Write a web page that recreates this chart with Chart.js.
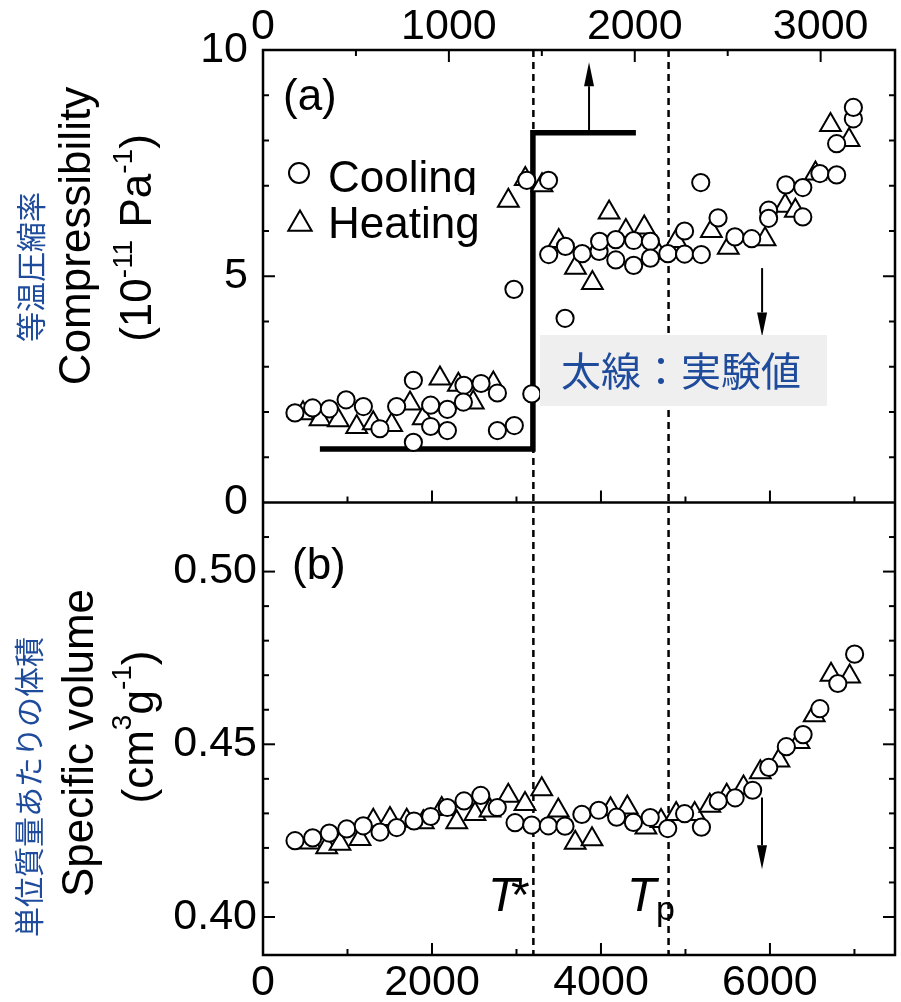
<!DOCTYPE html>
<html>
<head>
<meta charset="utf-8">
<script src="https://cdn.jsdelivr.net/npm/chart.js@4.4.1/dist/chart.umd.min.js"></script>
<style>
  html, body { margin: 0; padding: 0; background: #fff; }
  canvas { display: block; }
</style>
</head>
<body>
<canvas id="chart" width="901" height="1002"></canvas>
<script>
// (a) compressibility (10^-11 Pa^-1) vs top axis
var coolA_x = [172, 267, 357, 447, 540, 629, 719, 809, 809, 902, 902, 992, 992, 1081, 1078, 1173, 1261, 1261, 1352, 1350, 1446, 1419, 1536, 1537, 1627, 1625, 1717, 1808, 1811, 1898, 1898, 1994, 1994, 2084, 2084, 2178, 2268, 2268, 2355, 2358, 2448, 2539, 2629, 2720, 2720, 2813, 2904, 2904, 2996, 3086, 3086, 3176, 3176];
var coolA_y = [1.98, 2.09, 2.07, 2.27, 2.12, 1.63, 2.12, 2.70, 1.33, 2.15, 1.68, 2.06, 1.59, 2.59, 2.22, 2.63, 2.42, 1.59, 1.70, 4.71, 2.40, 7.12, 7.12, 5.48, 5.66, 4.07, 5.50, 5.55, 5.77, 5.81, 5.36, 5.79, 5.24, 5.77, 5.40, 5.50, 6.00, 5.49, 7.07, 5.48, 6.29, 5.87, 5.83, 6.46, 6.28, 7.02, 6.96, 6.31, 7.27, 7.24, 7.93, 8.48, 8.73];
var heatA_x = [215, 307, 405, 504, 593, 692, 791, 862, 952, 1051, 1131, 1239, 1320, 1411, 1501, 1591, 1681, 1772, 1862, 1952, 2051, 2123, 2223, 2412, 2503, 2701, 2809, 2864, 2972, 3053, 3153];
var heatA_y = [1.97, 1.84, 1.82, 1.67, 1.75, 1.71, 2.19, 1.86, 2.74, 2.60, 2.21, 2.63, 6.67, 7.15, 7.01, 5.78, 5.19, 4.85, 6.41, 6.00, 6.08, 5.52, 5.78, 6.00, 5.63, 5.82, 6.56, 6.45, 7.27, 8.34, 8.01];

// thick line = experimental values (a)
var expA_x = [306, 1452, 1452, 2006];
var expA_y = [1.18, 1.18, 8.17, 8.17];

// (b) specific volume (cm^3 g^-1) vs bottom axis
var coolB_x = [379, 588, 785, 991, 1187, 1385, 1582, 1787, 1985, 2181, 2379, 2577, 2773, 2983, 3180, 3377, 3574, 3774, 3973, 4185, 4384, 4583, 4790, 4990, 5189, 5388, 5588, 5795, 5986, 6194, 6392, 6591, 6803, 7002];
var coolB_y = [0.4221, 0.4229, 0.4243, 0.4255, 0.4264, 0.4246, 0.4259, 0.4278, 0.4291, 0.4317, 0.4336, 0.4352, 0.4317, 0.4273, 0.4266, 0.4264, 0.4263, 0.4297, 0.4309, 0.4289, 0.4274, 0.4288, 0.4256, 0.4299, 0.4260, 0.4336, 0.4345, 0.4367, 0.4433, 0.4493, 0.4528, 0.4603, 0.4676, 0.4761];
var heatB_x = [556, 754, 911, 1148, 1305, 1503, 1701, 1897, 2115, 2293, 2509, 2687, 2903, 3101, 3299, 3495, 3695, 3894, 4113, 4312, 4532, 4711, 4890, 5109, 5288, 5488, 5687, 5886, 6106, 6344, 6524, 6723, 6943];
var heatB_y = [0.4216, 0.4202, 0.4212, 0.4226, 0.4279, 0.4284, 0.4279, 0.4274, 0.4313, 0.4274, 0.4298, 0.4308, 0.4351, 0.4327, 0.4370, 0.4308, 0.4215, 0.4225, 0.4312, 0.4317, 0.4259, 0.4278, 0.4298, 0.4298, 0.4322, 0.4351, 0.4375, 0.4419, 0.4453, 0.4507, 0.4584, 0.4701, 0.4696];

// arrows (a) in top-axis units, (b) in bottom-axis units
var arrowA_x = [1754, 2685];
var arrowA_from = [8.17, 5.18];
var arrowA_to = [9.73, 3.67];
var arrowB_x = [5906];
var arrowB_from = [0.4346];
var arrowB_to = [0.4138];

// T* and Tp (bottom-axis units)
var tStar = 3200, tP = 4800;

// tick labels
var topTicks = [0, 1000, 2000, 3000];
var bottomTicks = [0, 2000, 4000, 6000];
var ticksA = [0, 5, 10];
var ticksB = [0.40, 0.45, 0.50];

var FAM = "'Liberation Sans', Arial, sans-serif";
var JFAM = "'Noto Sans CJK JP', sans-serif";
var BLUE = '#1e4b9b';

function pts(xs, ys) { return xs.map(function (x, i) { return { x: x, y: ys[i] }; }); }

function richText(ctx, parts, cx, cy) {
  ctx.save();
  ctx.translate(cx, cy);
  ctx.rotate(-Math.PI / 2);
  var w = 0;
  parts.forEach(function (p) { ctx.font = p[1] + 'px ' + FAM; w += ctx.measureText(p[0]).width; });
  var x = -w / 2;
  ctx.textAlign = 'left'; ctx.textBaseline = 'alphabetic';
  parts.forEach(function (p) {
    ctx.font = p[1] + 'px ' + FAM;
    ctx.fillText(p[0], x, -p[2]);
    x += ctx.measureText(p[0]).width;
  });
  ctx.restore();
}

function circle(ctx, x, y, r) {
  ctx.beginPath(); ctx.arc(x, y, r, 0, Math.PI * 2);
  ctx.fillStyle = '#fff'; ctx.fill(); ctx.stroke();
}
function triangle(ctx, x, y, r) {
  ctx.beginPath();
  for (var k = 0; k < 3; k++) {
    var a = k * 2 * Math.PI / 3;
    ctx.lineTo(x + Math.sin(a) * r, y - Math.cos(a) * r);
  }
  ctx.closePath();
  ctx.fillStyle = '#fff'; ctx.fill(); ctx.stroke();
}

function arrow(ctx, x, y1, y2) {
  var dir = y2 < y1 ? -1 : 1, head = 24, hw = 5;
  ctx.beginPath(); ctx.moveTo(x, y1); ctx.lineTo(x, y2 - dir * head); ctx.stroke();
  ctx.beginPath(); ctx.moveTo(x, y2); ctx.lineTo(x - hw, y2 - dir * head); ctx.lineTo(x + hw, y2 - dir * head);
  ctx.closePath(); ctx.fill();
}

var decor = {
  id: 'decor',
  beforeDatasetsDraw: function (chart) {
    var ctx = chart.ctx, a = chart.chartArea, xb = chart.scales.xb;
    ctx.save();
    ctx.strokeStyle = '#000'; ctx.lineWidth = 2.5; ctx.setLineDash([7, 5]);
    [tStar, tP].forEach(function (v) {
      var x = xb.getPixelForValue(v);
      ctx.beginPath(); ctx.moveTo(x, a.top); ctx.lineTo(x, a.bottom); ctx.stroke();
    });
    ctx.restore();
  },
  afterDatasetsDraw: function (chart) {
    var ctx = chart.ctx, a = chart.chartArea, s = chart.scales;
    var xt = s.xt, xb = s.xb, ya = s.ya, yb = s.yb;
    ctx.save();
    ctx.strokeStyle = '#000'; ctx.fillStyle = '#000'; ctx.lineWidth = 2.5;
    // frame and divider
    ctx.strokeRect(a.left, a.top, a.right - a.left, a.bottom - a.top);
    ctx.beginPath(); ctx.moveTo(a.left, ya.bottom); ctx.lineTo(a.right, ya.bottom); ctx.stroke();

    // inward ticks
    ctx.lineWidth = 2;
    var v, p, len;
    for (v = 500; v < xt.max; v += 500) {
      p = xt.getPixelForValue(v); len = v % 1000 === 0 ? 12 : 6;
      ctx.beginPath(); ctx.moveTo(p, a.top); ctx.lineTo(p, a.top + len); ctx.stroke();
    }
    for (v = 1000; v < xb.max; v += 1000) {
      p = xb.getPixelForValue(v); len = v % 2000 === 0 ? 12 : 6;
      ctx.beginPath(); ctx.moveTo(p, a.bottom); ctx.lineTo(p, a.bottom - len); ctx.stroke();
      ctx.beginPath(); ctx.moveTo(p, ya.bottom); ctx.lineTo(p, ya.bottom - len); ctx.stroke();
    }
    for (v = 1; v < 10; v++) {
      p = ya.getPixelForValue(v); len = v % 5 === 0 ? 12 : 6;
      ctx.beginPath(); ctx.moveTo(a.left, p); ctx.lineTo(a.left + len, p); ctx.stroke();
      ctx.beginPath(); ctx.moveTo(a.right, p); ctx.lineTo(a.right - len, p); ctx.stroke();
    }
    for (v = 40; v <= 51; v++) {
      p = yb.getPixelForValue(v / 100); len = v % 5 === 0 ? 12 : 6;
      ctx.beginPath(); ctx.moveTo(a.left, p); ctx.lineTo(a.left + len, p); ctx.stroke();
      ctx.beginPath(); ctx.moveTo(a.right, p); ctx.lineTo(a.right - len, p); ctx.stroke();
    }

    // arrows
    arrowA_x.forEach(function (x, i) {
      arrow(ctx, xt.getPixelForValue(x), ya.getPixelForValue(arrowA_from[i]), ya.getPixelForValue(arrowA_to[i]));
    });
    arrowB_x.forEach(function (x, i) {
      arrow(ctx, xb.getPixelForValue(x), yb.getPixelForValue(arrowB_from[i]), yb.getPixelForValue(arrowB_to[i]));
    });

    // note box
    ctx.fillStyle = '#efefef';
    ctx.fillRect(540, 335, 287, 71);
    ctx.fillStyle = BLUE; ctx.font = '40px ' + JFAM;
    ctx.textAlign = 'left'; ctx.textBaseline = 'middle';
    ctx.fillText('太線：実験値', 561, 371);

    // panel labels
    ctx.fillStyle = '#000'; ctx.textBaseline = 'alphabetic';
    ctx.font = '44px ' + FAM;
    ctx.fillText('(a)', 283, 110);
    ctx.fillText('(b)', 292, 579);

    // legend
    ctx.lineWidth = 2;
    circle(ctx, 299, 173, 10);
    ctx.fillStyle = '#000';
    ctx.fillText('Cooling', 328, 192);
    ctx.fillStyle = '#fff'; ctx.fillRect(326, 195, 160, 10);
    triangle(ctx, 300, 224, 13.5);
    ctx.fillStyle = '#000';
    ctx.fillText('Heating', 328, 238);

    // T* and Tp
    ctx.font = 'italic 48px ' + FAM;
    ctx.fillText('T', 488, 911);
    ctx.font = '48px ' + FAM;
    ctx.fillText('*', 511, 911);
    ctx.font = 'italic 48px ' + FAM;
    ctx.fillText('T', 627, 911);
    ctx.font = '34px ' + FAM;
    ctx.fillText('p', 656, 920);

    // axis titles
    richText(ctx, [['Compressibility', 44, 0]], 90, 236);
    richText(ctx, [['(10', 44, 0], ['-11', 28, 19], [' Pa', 44, 0], ['-1', 28, 19], [')', 44, 0]], 151, 238);
    richText(ctx, [['Specific volume', 44, 0]], 93, 743);
    richText(ctx, [['(cm', 44, 0], ['3', 28, 22], ['g', 44, 0], ['-1', 28, 22], [')', 44, 0]], 153, 727);

    ctx.fillStyle = BLUE; ctx.font = '30px ' + JFAM;
    ctx.textAlign = 'center'; ctx.textBaseline = 'middle';
    [['等温圧縮率', 31, 267], ['単位質量あたりの体積', 29, 787]].forEach(function (t) {
      ctx.save(); ctx.translate(t[1], t[2]); ctx.rotate(-Math.PI / 2);
      ctx.fillText(t[0], 0, 0); ctx.restore();
    });
    ctx.restore();
  }
};

var tickFont = { family: FAM, size: 43, lineHeight: 1 };
function baseAxis(extra, pad, fmt) {
  var o = {
    type: 'linear',
    grid: { display: false, drawTicks: false },
    border: { display: false },
    ticks: { font: tickFont, color: '#000', maxRotation: 0, autoSkip: false, padding: pad,
             callback: fmt || function (v) { return String(v); } }
  };
  for (var k in extra) o[k] = extra[k];
  return o;
}

// fixed box sizes so the plot frame lands where the original has it
function fitX(h) {
  return function (s) { s.height = h; s.paddingLeft = 0; s.paddingRight = 0; };
}
function fitY(s) { s.width = 263; s.paddingTop = 0; s.paddingBottom = 0; }

var ctx = document.getElementById('chart').getContext('2d');
var chart = new Chart(ctx, {
  type: 'scatter',
  data: {
    datasets: [
      { label: 'Cooling', data: pts(coolA_x, coolA_y), xAxisID: 'xt', yAxisID: 'ya',
        pointStyle: 'circle', pointRadius: 8.6, borderWidth: 2, borderColor: '#000', backgroundColor: '#fff' },
      { label: 'Cooling', data: pts(coolB_x, coolB_y), xAxisID: 'xb', yAxisID: 'yb',
        pointStyle: 'circle', pointRadius: 8.6, borderWidth: 2, borderColor: '#000', backgroundColor: '#fff' },
      { label: 'Heating', data: pts(heatA_x, heatA_y), xAxisID: 'xt', yAxisID: 'ya',
        pointStyle: 'triangle', pointRadius: 12, borderWidth: 2, borderColor: '#000', backgroundColor: '#fff' },
      { label: 'Heating', data: pts(heatB_x, heatB_y), xAxisID: 'xb', yAxisID: 'yb',
        pointStyle: 'triangle', pointRadius: 12, borderWidth: 2, borderColor: '#000', backgroundColor: '#fff' },
      { label: 'exp', data: pts(expA_x, expA_y), xAxisID: 'xt', yAxisID: 'ya',
        showLine: true, pointRadius: 0, borderWidth: 5.5, borderColor: '#000',
        borderJoinStyle: 'miter', borderCapStyle: 'butt' }
    ]
  },
  options: {
    responsive: false,
    animation: false,
    // no auto padding for the marker size, the frame must reach x=895
    layout: { autoPadding: false, padding: { left: 0, right: 6, top: 0, bottom: 0 } },
    plugins: { legend: { display: false }, tooltip: { enabled: false } },
    scales: {
      xt: baseAxis({ position: 'top', min: 0, max: 3400,
        afterBuildTicks: function (s) { s.ticks = topTicks.map(function (v) { return { value: v }; }); },
        afterFit: fitX(50) }, 1),
      xb: baseAxis({ position: 'bottom', min: 0, max: 7480,
        afterBuildTicks: function (s) { s.ticks = bottomTicks.map(function (v) { return { value: v }; }); },
        afterFit: fitX(47) }, 7),
      // stacked left axes: the one listed first ends up at the bottom
      yb: baseAxis({ position: 'left', stack: 'left', stackWeight: 1, min: 0.389, max: 0.52,
        afterBuildTicks: function (s) { s.ticks = ticksB.map(function (v) { return { value: v }; }); },
        afterFit: fitY }, 6, function (v) { return v.toFixed(2); }),
      ya: baseAxis({ position: 'left', stack: 'left', stackWeight: 1, min: 0, max: 10,
        afterBuildTicks: function (s) { s.ticks = ticksA.map(function (v) { return { value: v }; }); },
        afterFit: fitY }, 15)
    }
  },
  plugins: [decor]
});
</script>
</body>
</html>
